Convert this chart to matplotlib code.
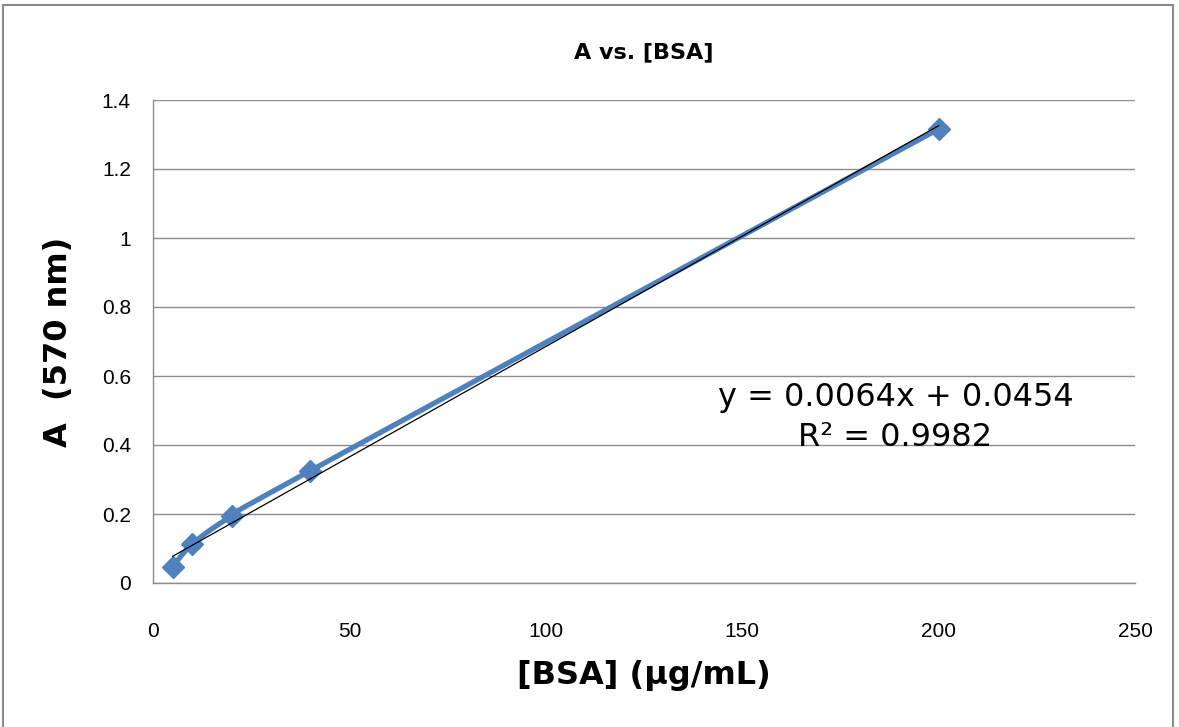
import numpy as np
import matplotlib.pyplot as plt
from matplotlib.patches import Rectangle

# 数据
bsa = [5, 10, 20, 40, 200]
absorb = [0.046, 0.113, 0.194, 0.325, 1.316]
slope = 0.0064
intercept = 0.0454
eq_text = "y = 0.0064x + 0.0454"
r2_text = "R² = 0.9982"
xticks = [0, 50, 100, 150, 200, 250]
yticks = [0, 0.2, 0.4, 0.6, 0.8, 1, 1.2, 1.4]

blue = "#4F81BD"


# Excel 风格的平滑曲线（bezier，控制点 = P +/- (P_next - P_prev)/6）
def smooth(xs, ys, n=30):
    p = np.column_stack([xs, ys]).astype(float)
    out = []
    for i in range(len(p) - 1):
        p0 = p[i - 1] if i > 0 else p[i]
        p3 = p[i + 2] if i + 2 < len(p) else p[i + 1]
        c1 = p[i] + (p[i + 1] - p0) / 6
        c2 = p[i + 1] - (p3 - p[i]) / 6
        t = np.linspace(0, 1, n)[:, None]
        seg = ((1 - t) ** 3) * p[i] + 3 * ((1 - t) ** 2) * t * c1 \
            + 3 * (1 - t) * t ** 2 * c2 + t ** 3 * p[i + 1]
        out.append(seg)
    out = np.vstack(out)
    return out[:, 0], out[:, 1]


fig = plt.figure(figsize=(11.79, 7.27), dpi=100)
ax = fig.add_axes([153 / 1179, 1 - 583 / 727, 982 / 1179, 483 / 727])

# 外框
fig.patches.append(Rectangle((3 / 1179, -0.01), 1170 / 1179, 1 - 5 / 727 + 0.01,
                             transform=fig.transFigure, fill=False,
                             edgecolor="#8c8c8c", lw=1.5))

sx, sy = smooth(bsa, absorb)
ax.plot(sx, sy, color=blue, lw=3.8, zorder=3, solid_capstyle="round")
ax.plot(bsa, absorb, linestyle="none", marker="D", markersize=11,
        color=blue, zorder=4)

# 线性趋势线
tx = np.array([min(bsa), max(bsa)])
ax.plot(tx, slope * tx + intercept, color="black", lw=0.9, zorder=5)

ax.set_xlim(0, 250)
ax.set_ylim(0, 1.4)
ax.set_xticks(xticks)
ax.set_yticks(yticks)
ax.set_yticklabels([f"{v:g}" for v in yticks])
ax.grid(axis="y", color="#8c8c8c", lw=1)
ax.set_axisbelow(True)
for s in ["top", "right"]:
    ax.spines[s].set_visible(False)
for s in ["left", "bottom"]:
    ax.spines[s].set_color("#8c8c8c")
    ax.spines[s].set_linewidth(1)
ax.tick_params(length=0, labelsize=15)
ax.tick_params(axis="x", pad=28)
ax.tick_params(axis="y", pad=16)
for lbl in ax.get_xticklabels() + ax.get_yticklabels():
    lbl.set_fontfamily("Liberation Sans")

ax.set_title("A vs. [BSA]", fontsize=16, fontweight="bold", pad=30)
ax.set_xlabel("[BSA] (µg/mL)", fontsize=23, fontweight="bold", labelpad=14)
ax.set_ylabel("A  (570 nm)", fontsize=23, fontweight="bold", labelpad=20)

ax.text(189, 0.539, eq_text, fontsize=23, ha="center", va="center")
ax.text(189, 0.423, r2_text, fontsize=23, ha="center", va="center")

fig.savefig("out.png", dpi=100)
